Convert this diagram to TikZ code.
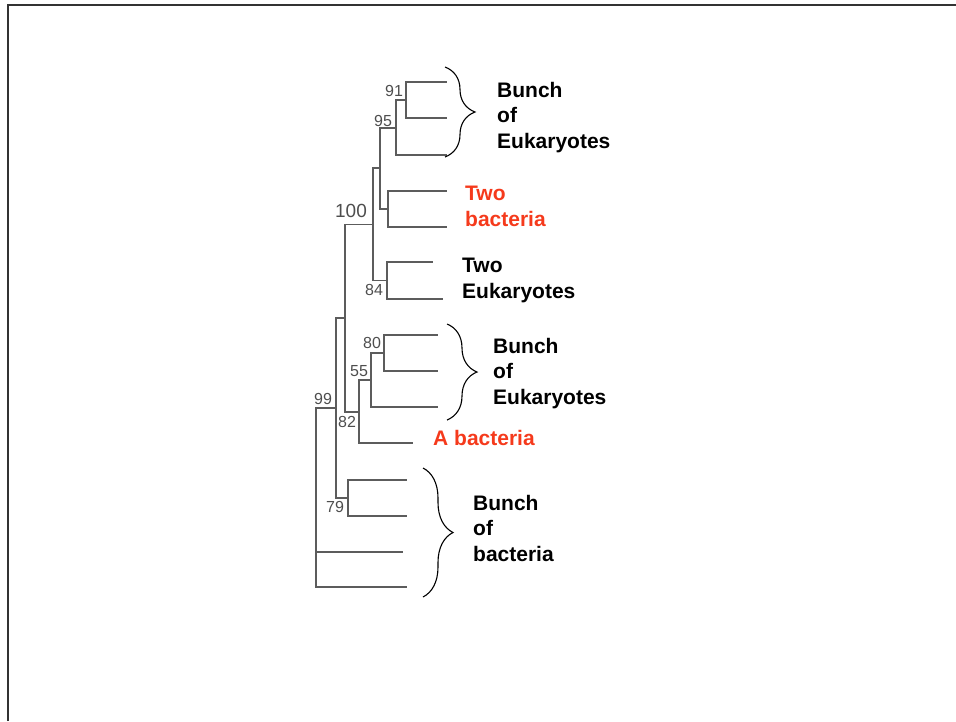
\documentclass[tikz,border=0pt]{standalone}
\usepackage{fontspec}
\setmainfont{Liberation Sans}
\usetikzlibrary{decorations.pathreplacing}
\definecolor{treegray}{HTML}{5C5C5C}
\definecolor{bactred}{HTML}{F53A1C}

\begin{document}
\begin{tikzpicture}[x=1pt, y=-1pt,
                branch/.style={draw=treegray, line width=1.2pt},
                support/.style={text=treegray!85!black, inner sep=0pt, font=\fontsize{16}{16}\selectfont},
                grouplabel/.style={anchor=north west, inner sep=0pt, align=left, font=\fontsize{21}{25.5}\selectfont\bfseries},
                redlabel/.style={grouplabel, text=bactred},
                groupbrace/.style={draw=black, line width=1.1pt, decorate, decoration={brace, amplitude=30pt}},
                frameline/.style={draw=black!80, line width=1.4pt}
            ]
            \useasboundingbox (0,0) rectangle (956,721);

            % Rahmen
            \coordinate (fa) at (8,721);
            \coordinate (fb) at (8,5);
            \coordinate (fc) at (956,5);
            \draw[frameline] (fa) -- (fb) -- (fc);

            % Blaetter
            \coordinate (e1) at (447,82);
            \coordinate (e2) at (447,118);
            \coordinate (e3) at (447,155);
            \coordinate (b1) at (447,191);
            \coordinate (b2) at (447,227);
            \coordinate (t1) at (433,262);
            \coordinate (t2) at (443,299);
            \coordinate (f1) at (438,335);
            \coordinate (f2) at (438,371);
            \coordinate (f3) at (438,407);
            \coordinate (a1) at (413,443);
            \coordinate (g1) at (407,480);
            \coordinate (g2) at (407,516);
            \coordinate (g3) at (403,552);
            \coordinate (g4) at (407,587);

            % innere Knoten
            \coordinate (n91) at (406,100);
            \coordinate (n95) at (396,128);
            \coordinate (ntb) at (388,209);
            \coordinate (na) at (380,168);
            \coordinate (n84) at (387,280.5);
            \coordinate (nb) at (373,224.5);
            \coordinate (n80) at (384,353);
            \coordinate (n55) at (371,380);
            \coordinate (n82) at (359,412);
            \coordinate (n100) at (345,318);
            \coordinate (n79) at (348,498);
            \coordinate (nc) at (336,408);
            \coordinate (n99) at (316,497);

            % Kanten zwischen Knoten
            \draw[branch] (n91) |- (e1) (n91) |- (e2);
            \draw[branch] (n95) |- (n91) (n95) |- (e3);
            \draw[branch] (ntb) |- (b1) (ntb) |- (b2);
            \draw[branch] (na) |- (n95) (na) |- (ntb);
            \draw[branch] (n84) |- (t1) (n84) |- (t2);
            \draw[branch] (nb) |- (na) (nb) |- (n84);
            \draw[branch] (n80) |- (f1) (n80) |- (f2);
            \draw[branch] (n55) |- (n80) (n55) |- (f3);
            \draw[branch] (n82) |- (n55) (n82) |- (a1);
            \draw[branch] (n100) |- (nb) (n100) |- (n82);
            \draw[branch] (n79) |- (g1) (n79) |- (g2);
            \draw[branch] (nc) |- (n100) (nc) |- (n79);
            \draw[branch] (n99) |- (nc) (n99) |- (g3) (n99) |- (g4);

            % Bootstrap-Werte
            \node[support] (s91) at (394,91) {91};
            \node[support] (s95) at (383,121) {95};
            \node[support, font=\fontsize{19}{19}\selectfont] (s100) at (351,211) {100};
            \node[support] (s84) at (374,290) {84};
            \node[support] (s80) at (372,343) {80};
            \node[support] (s55) at (359,371) {55};
            \node[support] (s99) at (323,399) {99};
            \node[support] (s82) at (347,422) {82};
            \node[support] (s79) at (335,507) {79};

            % Klammern
            \coordinate (k1a) at (445,67);
            \coordinate (k1b) at (445,157);
            \coordinate (k2a) at (447,324);
            \coordinate (k2b) at (447,420);
            \coordinate (k3a) at (423,468);
            \coordinate (k3b) at (423,597);
            \draw[groupbrace] (k1a) -- (k1b);
            \draw[groupbrace] (k2a) -- (k2b);
            \draw[groupbrace] (k3a) -- (k3b);

            % Beschriftungen
            \node[grouplabel] (euk1) at (497,82) {Bunch\\of\\Eukaryotes};
            \node[redlabel] (bac2) at (465,186) {Two\\bacteria};
            \node[grouplabel] (euk2) at (462,258) {Two\\Eukaryotes};
            \node[grouplabel] (euk3) at (493,338) {Bunch\\of\\Eukaryotes};
            \node[redlabel] (bac1) at (433,430) {A bacteria};
            \node[grouplabel] (bacs) at (473,495) {Bunch\\of\\bacteria};

        \end{tikzpicture}
\end{document}
